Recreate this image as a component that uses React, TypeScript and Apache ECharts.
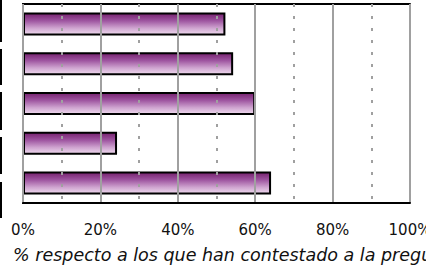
import React, { useEffect, useRef } from "react";
import * as echarts from "echarts";

const categories = ["Opción 1", "Opción 2", "Opción 3", "Opción 4", "Opción 5"];
const values = [52.3, 54.3, 60.0, 24.3, 64.1];
const axisTitle = "% respecto a los que han contestado a la pregunta";

export default function App() {
  const ref = useRef<HTMLDivElement>(null);
  useEffect(() => {
    if (!ref.current) return;
    const chart = echarts.init(ref.current, null, { renderer: "svg" });
    const grad = new echarts.graphic.LinearGradient(0, 0, 0, 1, [
      { offset: 0, color: "#76226f" },
      { offset: 0.35, color: "#9e55a0" },
      { offset: 0.7, color: "#cfa4d0" },
      { offset: 1, color: "#eedaee" },
    ]);
    const segs = [
      [0, 42],
      [49, 85],
      [92, 130],
      [137, 174],
      [182, 218],
    ];
    const border = { show: true, lineStyle: { color: "#000", width: 2 } };
    chart.setOption({
      animation: false,
      grid: {
        left: 23,
        top: 4,
        right: 16,
        bottom: 62,
        outerBoundsMode: "none",
        containLabel: false,
      },
      xAxis: [
        {
          type: "value",
          min: 0,
          max: 100,
          interval: 20,
          position: "bottom",
          axisLine: border,
          axisTick: { show: false },
          axisLabel: {
            formatter: "{value}%",
            fontFamily: "DejaVu Sans",
            fontSize: 15,
            color: "#111",
            margin: 19,
            showMaxLabel: true,
          },
          splitLine: { show: true, lineStyle: { color: "#a0a0a0", width: 2 } },
          minorTick: { show: false, splitNumber: 2 },
          minorSplitLine: {
            show: true,
            lineStyle: { color: "#a0a0a0", width: 2, type: [3, 9] },
          },
          z: 5,
        },
        {
          type: "value",
          min: 0,
          max: 100,
          position: "top",
          axisLine: border,
          axisTick: { show: false },
          axisLabel: { show: false },
          splitLine: { show: false },
        },
      ],
      yAxis: [
        {
          type: "category",
          data: categories,
          inverse: true,
          position: "left",
          axisLine: border,
          axisTick: { show: false },
          axisLabel: { show: false },
          splitLine: { show: false },
        },
        {
          type: "category",
          data: categories,
          inverse: true,
          position: "right",
          axisLine: border,
          axisTick: { show: false },
          axisLabel: { show: false },
          splitLine: { show: false },
        },
      ],
      series: [
        {
          type: "bar",
          data: values,
          barWidth: 23,
          itemStyle: { color: grad, borderColor: "#000", borderWidth: 2 },
        },
      ],
      graphic: [
        ...segs.map(([a, b]) => ({
          type: "rect",
          shape: { x: 0, y: a, width: 2, height: b - a },
          style: { fill: "#000" },
        })),
        {
          type: "text",
          left: 13,
          top: 246,
          style: {
            text: axisTitle,
            font: "italic 17.5px 'DejaVu Sans'",
            fill: "#111",
          },
        },
      ],
    });
    return () => chart.dispose();
  }, []);
  return <div ref={ref} style={{ width: 426, height: 265, position: "absolute", left: 0, top: 0 }} />;
}
